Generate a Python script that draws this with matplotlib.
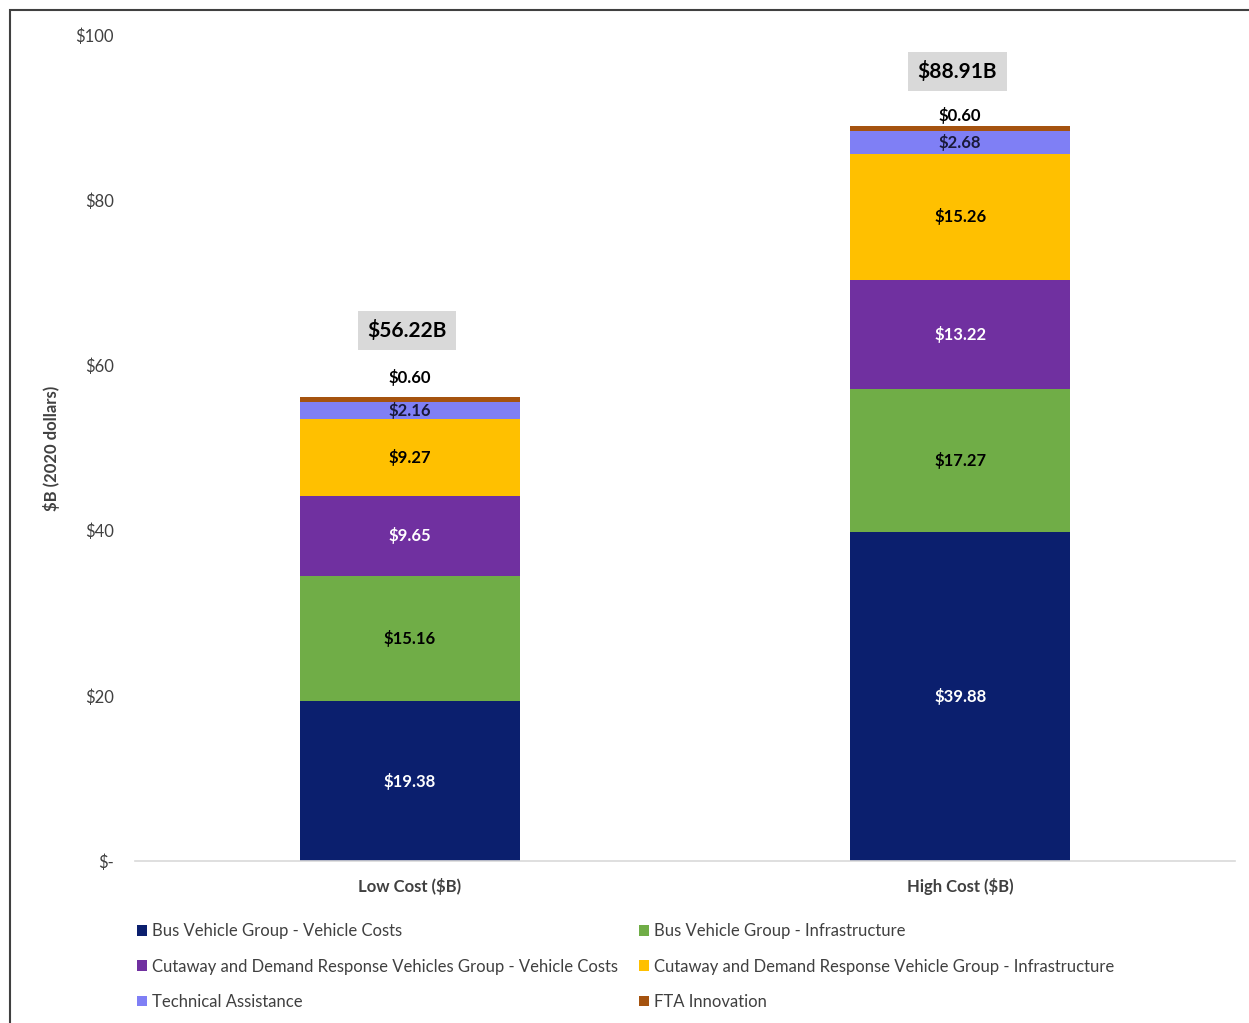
import matplotlib.pyplot as plt
from matplotlib.patches import Rectangle

plt.rcParams['font.family'] = ['Lato', 'DejaVu Sans']

categories = ["Low Cost ($B)", "High Cost ($B)"]
series = [
    "Bus Vehicle Group - Vehicle Costs",
    "Bus Vehicle Group - Infrastructure",
    "Cutaway and Demand Response Vehicles Group - Vehicle Costs",
    "Cutaway and Demand Response Vehicle Group - Infrastructure",
    "Technical Assistance",
    "FTA Innovation",
]
bus_vehicle = [19.38, 39.88]
bus_infra = [15.16, 17.27]
cutaway_vehicle = [9.65, 13.22]
cutaway_infra = [9.27, 15.26]
tech_assist = [2.16, 2.68]
fta_innov = [0.60, 0.60]
totals = ["$56.22B", "$88.91B"]

values = [bus_vehicle, bus_infra, cutaway_vehicle, cutaway_infra, tech_assist, fta_innov]
colors = ["#0b1f6e", "#70ad47", "#7030a0", "#ffc000", "#7f7ff5", "#a5530f"]
label_colors = ["white", "black", "white", "black", "#1a1a3a", None]

fig = plt.figure(figsize=(12.49, 10.23), dpi=100)
ax = fig.add_axes([0.108, 0.158, 0.881, 0.808])

x = [0, 1]
bottom = [0, 0]
for vals, col, lc, name in zip(values, colors, label_colors, series):
    ax.bar(x, vals, 0.4, bottom=bottom, color=col, label=name)
    for i in x:
        if lc is not None:
            ax.text(i, bottom[i] + vals[i] / 2, "${:.2f}".format(vals[i]),
                    ha="center", va="center", color=lc, fontsize=12, fontweight="bold")
    bottom = [b + v for b, v in zip(bottom, vals)]

# offsets (points) of the top labels above each bar
small_off = [8, 2]
total_off = [40, 32]
for i in x:
    ax.annotate("${:.2f}".format(fta_innov[i]), (i, bottom[i]), xytext=(0, small_off[i]),
                textcoords="offset points", ha="center", va="bottom",
                fontsize=12, fontweight="bold")
    ax.annotate(totals[i], (i, bottom[i]), xytext=(-2, total_off[i]), textcoords="offset points",
                ha="center", va="bottom", fontsize=15, fontweight="bold",
                bbox=dict(boxstyle="square,pad=0.45", fc="#d9d9d9", ec="none"))

ax.set_xlim(-0.5, 1.5)
ax.set_ylim(0, 100)
ax.set_yticks([0, 20, 40, 60, 80, 100])
ax.set_yticklabels(["$-", "$20", "$40", "$60", "$80", "$100"])
ax.set_xticks(x)
ax.set_xticklabels(categories, fontweight="bold")
ax.tick_params(axis="both", length=0, labelsize=12, labelcolor="#404040")
ax.tick_params(axis="y", pad=15)
ax.tick_params(axis="x", pad=12)
for s in ["top", "right", "left"]:
    ax.spines[s].set_visible(False)
ax.spines["bottom"].set_color("#d9d9d9")
ax.spines["bottom"].set_linewidth(1.2)
ax.set_ylabel("$B (2020 dollars)", fontsize=12, fontweight="bold", color="#404040", labelpad=11)

# row-major legend order in two columns
h, l = ax.get_legend_handles_labels()
order = [0, 2, 4, 1, 3, 5]
ax.legend([h[k] for k in order], [l[k] for k in order],
          loc="upper left", bbox_to_anchor=(-0.012, -0.057), ncol=2, frameon=False,
          fontsize=12, labelcolor="#404040", handlelength=0.6, handleheight=0.6,
          handletextpad=0.3, columnspacing=1.3, labelspacing=1.15)

fig.patches.append(Rectangle((0.008, -0.01), 1.0, 1.0, transform=fig.transFigure,
                             fill=False, ec="#404040", lw=1.5))

fig.savefig("out.png", dpi=100)
